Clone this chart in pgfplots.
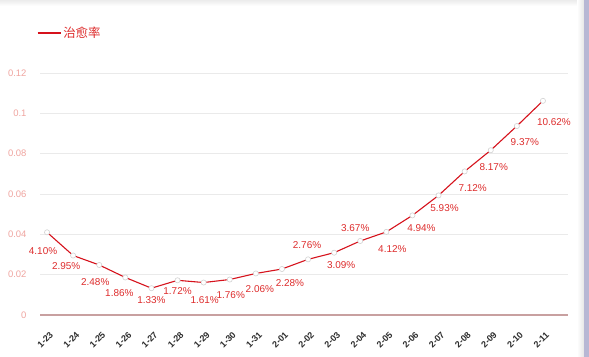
\documentclass[border=0pt]{standalone}
\usepackage{pgfplots}
\pgfplotsset{compat=1.18}
\usepackage{pgfplotstable}
\usepackage{fontspec}
\setmainfont{Liberation Sans}
\newfontfamily\cjk{Noto Sans CJK SC}
\definecolor{linered}{RGB}{214,18,28}
\definecolor{labred}{RGB}{222,45,45}
\definecolor{ticklab}{RGB}{240,165,160}
\definecolor{gridc}{RGB}{234,234,234}
\definecolor{axisc}{RGB}{200,160,160}
\definecolor{xlab}{RGB}{45,45,45}
\pgfplotstableread{
x y dx dy
0 0.0410 -4 19
1 0.0295 -7 11
2 0.0248 -4 17
3 0.0186 -6 16
4 0.0133 0 12
5 0.0172 0 11
6 0.0161 1 18
7 0.0176 1 16
8 0.0206 4 16
9 0.0228 8 14
10 0.0276 -1 -14
11 0.0309 7 12
12 0.0367 -5 -13
13 0.0412 6 17
14 0.0494 9 13
15 0.0593 6 13
16 0.0712 8 17
17 0.0817 3 17
18 0.0937 8 16
19 0.1062 11 21
}\datatable
\begin{document}
\begin{tikzpicture}
\useasboundingbox (0,0) rectangle (589bp,357bp);
\fill[white] (0,0) rectangle (589bp,357bp);
\shade[top color=gray!15, bottom color=white] (0,351bp) rectangle (589bp,357bp);
\shade[left color=white, right color=gray!20] (577bp,0) rectangle (584bp,357bp);
\fill[blue!25!gray!45] (584bp,0) rectangle (589bp,357bp);
\begin{axis}[
  /pgf/number format/assume math mode=true,
  at={(40bp,42bp)}, anchor=south west,
  scale only axis, width=528bp, height=242bp,
  xmin=-0.27, xmax=19.96, ymin=0, ymax=0.12,
  axis line style={draw=none},
  ytick={0,0.02,0.04,0.06,0.08,0.1,0.12},
  yticklabels={0,0.02,0.04,0.06,0.08,0.1,0.12},
  ymajorgrids, grid style={gridc, line width=0.8pt},
  major tick length=0pt,
  yticklabel style={font=\fontsize{9.5}{11}\selectfont, text=ticklab, xshift=-10bp},
  xtick={0,...,19},
  xticklabels={1-23,1-24,1-25,1-26,1-27,1-28,1-29,1-30,1-31,2-01,2-02,2-03,2-04,2-05,2-06,2-07,2-08,2-09,2-10,2-11},
  xticklabel style={font=\bfseries\fontsize{9}{11}\selectfont, text=xlab, xshift=7bp, yshift=-16bp, rotate=45, anchor=east},
  legend style={at={(rel axis cs:0,1)}, anchor=west, xshift=-6bp, yshift=40bp, draw=none, fill=none,
    font=\cjk\fontsize{12.5}{14}\selectfont, text=labred},
  legend image code/.code={\draw[#1, mark=none] (0bp,0bp) -- (23bp,0bp);},
  clip=false,
]
\addplot[linered, line width=1.1pt, mark=*, mark size=2.6pt,
  mark options={fill=white, draw=gray!35, line width=0.6pt},
  point meta={y*100},
  visualization depends on={\thisrow{dx} \as \dx},
  visualization depends on={\thisrow{dy} \as \dy},
  nodes near coords={\pgfmathprintnumber[fixed,fixed zerofill,precision=2,assume math mode=true]{\pgfplotspointmeta}\%},
  every node near coord/.append style={anchor=center, xshift=\dx bp, yshift=-\dy bp,
    font=\fontsize{10}{12}\selectfont, text=labred, inner sep=0pt},
] table[x=x, y=y] {\datatable};
\addlegendentry{治愈率}
\draw[axisc, line width=1.6pt] (rel axis cs:0,0) -- (rel axis cs:1,0);
\end{axis}
\end{tikzpicture}
\end{document}
